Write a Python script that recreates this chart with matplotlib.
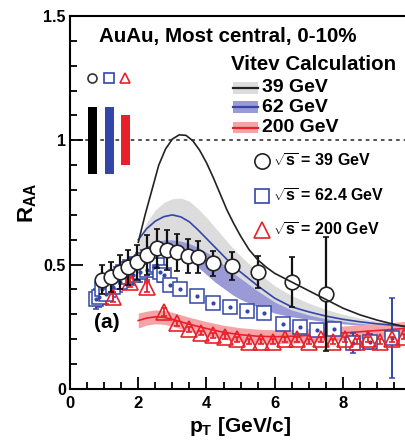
import matplotlib
matplotlib.use("Agg")
import matplotlib.pyplot as plt
from matplotlib.lines import Line2D
from matplotlib.patches import Rectangle

plt.rcParams['font.family'] = ['Liberation Sans', 'DejaVu Sans']
plt.rcParams['font.weight'] = 'bold'
plt.rcParams['mathtext.fontset'] = 'custom'
plt.rcParams['mathtext.rm'] = 'Liberation Sans:bold'
plt.rcParams['mathtext.bf'] = 'Liberation Sans:bold'
plt.rcParams['mathtext.it'] = 'Liberation Sans:bold'

# ---- measured R_AA ----
# sqrt(s) = 39 GeV (open circles)
c39_pt = [0.95, 1.2, 1.45, 1.7, 1.95, 2.25, 2.55, 2.84, 3.15, 3.45, 3.75, 4.2, 4.75, 5.5, 6.5, 7.5]
c39_raa = [0.44, 0.45, 0.47, 0.49, 0.51, 0.54, 0.565, 0.56, 0.55, 0.535, 0.53, 0.505, 0.495, 0.47, 0.43, 0.383]
c39_err = [0.06, 0.06, 0.07, 0.07, 0.07, 0.08, 0.08, 0.08, 0.075, 0.07, 0.065, 0.05, 0.055, 0.065, 0.10, 0.23]

# sqrt(s) = 62.4 GeV (open squares)
s62_pt = [0.75, 0.85, 0.95, 1.05, 1.15, 1.25, 1.35, 1.45, 1.55, 1.65, 1.75, 1.85, 1.95, 2.05,
          2.15, 2.25, 2.35, 2.45, 2.55, 2.65, 2.75, 2.93, 3.22, 3.72, 4.2, 4.7, 5.2, 5.7,
          6.25, 6.75, 7.25, 7.75, 8.3, 8.8, 9.45]
s62_raa = [0.36, 0.37, 0.40, 0.38, 0.43, 0.41, 0.45, 0.43, 0.47, 0.45, 0.49, 0.46, 0.50, 0.47,
           0.52, 0.48, 0.53, 0.49, 0.50, 0.47, 0.46, 0.42, 0.40, 0.375, 0.345, 0.328, 0.313, 0.305,
           0.26, 0.25, 0.237, 0.24, 0.186, 0.19, 0.205]
s62_err = [0.04, 0.04, 0.04, 0.04, 0.04, 0.04, 0.04, 0.04, 0.04, 0.04, 0.04, 0.04, 0.04, 0.04,
           0.04, 0.04, 0.04, 0.04, 0.04, 0.04, 0.03, 0.02, 0.02, 0.02, 0.015, 0.015, 0.015, 0.015,
           0.02, 0.02, 0.02, 0.02, 0.04, 0.03, 0.16]

# sqrt(s) = 200 GeV (open triangles)
t200_pt = [1.25, 1.75, 2.25, 2.75, 3.15, 3.5, 3.85, 4.2, 4.55, 4.9, 5.25, 5.6, 5.95, 6.3,
           6.65, 7.0, 7.35, 7.7, 8.05, 8.4, 8.75, 9.1, 9.45, 9.8]
t200_raa = [0.37, 0.43, 0.41, 0.31, 0.265, 0.24, 0.225, 0.215, 0.21, 0.20, 0.19, 0.19, 0.19, 0.20,
            0.20, 0.19, 0.20, 0.19, 0.20, 0.19, 0.20, 0.19, 0.20, 0.21]
t200_err = [0.02, 0.02, 0.02, 0.015, 0.01, 0.01, 0.01, 0.01, 0.01, 0.01, 0.01, 0.01, 0.01, 0.01,
            0.01, 0.01, 0.01, 0.01, 0.01, 0.01, 0.01, 0.01, 0.01, 0.01]

# ---- global normalisation uncertainties ----
norm_x = [0.65, 1.15, 1.62]
norm_err = [0.135, 0.135, 0.10]
norm_colors = ['black', '#3346a8', '#e8202a']

# ---- Vitev calculation ----
th39_pt = [2.0, 2.2, 2.4, 2.6, 2.8, 3.0, 3.2, 3.4, 3.6, 3.8, 4.0, 4.2, 4.4, 4.6, 4.8, 5.0,
           5.25, 5.5, 5.75, 6.0, 6.5, 7.0, 7.5, 8.0, 8.5, 9.0, 9.5, 10.0]
th39_raa = [0.59, 0.70, 0.80, 0.90, 0.965, 1.005, 1.022, 1.02, 0.998, 0.96, 0.91, 0.85, 0.785,
            0.72, 0.665, 0.615, 0.56, 0.52, 0.49, 0.465, 0.43, 0.395, 0.36, 0.325, 0.298,
            0.277, 0.26, 0.245]

band_pt = [2.0, 2.25, 2.5, 2.75, 3.0, 3.25, 3.5, 3.75, 4.0, 4.25, 4.5, 4.75, 5.0, 5.5, 6.0,
           6.5, 7.0, 7.5, 8.0, 8.5, 9.0, 9.5, 10.0]
gray_hi = [0.60, 0.67, 0.72, 0.75, 0.765, 0.768, 0.755, 0.725, 0.69, 0.65, 0.61, 0.57, 0.535,
           0.47, 0.415, 0.375, 0.345, 0.32, 0.30, 0.285, 0.272, 0.262, 0.255]
th62_raa = [0.60, 0.645, 0.675, 0.693, 0.70, 0.692, 0.672, 0.64, 0.605, 0.57, 0.535, 0.50, 0.47,
            0.415, 0.365, 0.33, 0.31, 0.293, 0.28, 0.27, 0.262, 0.256, 0.25]
blue_hi = [0.53, 0.565, 0.59, 0.60, 0.60, 0.595, 0.585, 0.57, 0.55, 0.53, 0.50, 0.47, 0.445,
           0.395, 0.35, 0.318, 0.298, 0.283, 0.272, 0.264, 0.257, 0.251, 0.247]
blue_lo = [0.45, 0.50, 0.53, 0.55, 0.555, 0.545, 0.52, 0.49, 0.46, 0.43, 0.405, 0.38, 0.36,
           0.33, 0.305, 0.29, 0.28, 0.27, 0.262, 0.256, 0.25, 0.245, 0.242]

red_pt = [2.0, 2.25, 2.5, 2.75, 3.0, 3.5, 4.0, 4.5, 5.0, 5.5, 6.0, 6.5, 7.0, 7.5, 8.0, 8.5,
          9.0, 9.5, 10.0]
th200_raa = [0.275, 0.285, 0.29, 0.288, 0.28, 0.26, 0.243, 0.228, 0.218, 0.212, 0.21, 0.212,
             0.215, 0.22, 0.225, 0.23, 0.235, 0.24, 0.245]
red_lo = [0.245, 0.257, 0.262, 0.26, 0.252, 0.232, 0.215, 0.2, 0.19, 0.184, 0.182, 0.184,
          0.187, 0.192, 0.197, 0.202, 0.207, 0.212, 0.217]
red_hi = [0.305, 0.313, 0.318, 0.316, 0.308, 0.288, 0.271, 0.256, 0.246, 0.24, 0.238, 0.24,
          0.243, 0.248, 0.253, 0.258, 0.263, 0.268, 0.273]

theory_labels = ['39 GeV', '62 GeV', '200 GeV']
data_labels = [r'$\sqrt{s}$ = 39 GeV', r'$\sqrt{s}$ = 62.4 GeV', r'$\sqrt{s}$ = 200 GeV']

BLUE = '#3346a8'
RED = '#e8202a'
GRAY_BAND = '#dcdcdc'
BLUE_BAND = '#9a9bd6'
RED_BAND = '#f5a3a6'
DARK = '#222222'

fig = plt.figure(figsize=(4.05, 4.45), dpi=100)
ax = fig.add_axes([0.173, 0.126, 0.842, 0.838])

# theory bands
ax.fill_between(band_pt, blue_hi, gray_hi, color=GRAY_BAND, lw=0, zorder=1)
ax.fill_between(band_pt, blue_lo, blue_hi, color=BLUE_BAND, lw=0, zorder=1.2)
ax.fill_between(red_pt, red_lo, red_hi, color=RED_BAND, lw=0, zorder=1.2)
ax.plot(band_pt, th62_raa, color=BLUE, lw=1.2, zorder=1.5)
ax.plot(red_pt, th200_raa, color=RED, lw=1.2, zorder=1.5)

# unity line
ax.axhline(1.0, color='#444444', lw=1.3, ls=(0, (2, 2.2)), zorder=1)

# normalisation boxes
for x, e, c in zip(norm_x, norm_err, norm_colors):
    ax.bar(x, 2 * e, bottom=1 - e, width=0.27, color=c, zorder=2)
ax.plot(norm_x[0], 1.25, 'o', mfc='none', mec='#333333', ms=6.5, mew=1.2)
ax.plot(norm_x[1], 1.25, 's', mfc='none', mec=BLUE, ms=6.5, mew=1.2)
ax.plot(norm_x[2], 1.25, '^', mfc='none', mec=RED, ms=6.5, mew=1.2)

# data
ax.errorbar(s62_pt, s62_raa, yerr=s62_err, fmt='s', ms=10, mfc='white', mec=BLUE, mew=1.1,
            ecolor=BLUE, elinewidth=1.4, capsize=2, capthick=1.6, zorder=3)
ax.plot(s62_pt, s62_raa, 'o', ms=2, color=BLUE, zorder=3.1)
ax.errorbar(t200_pt, t200_raa, yerr=t200_err, fmt='^', ms=11, mfc='none', mec=RED, mew=1.2,
            ecolor=RED, elinewidth=1.3, capsize=2, capthick=1.5, zorder=3.2)
ax.errorbar(c39_pt, c39_raa, yerr=c39_err, fmt='o', ms=10.5, mfc='white', mec=DARK, mew=1.2,
            ecolor='#111111', elinewidth=1.6, capsize=2.5, capthick=2, zorder=3.4)

ax.plot(th39_pt, th39_raa, color=DARK, lw=1.2, zorder=4)

ax.set_xlim(0, 10)
ax.set_ylim(0, 1.5)
ax.set_xticks([0, 2, 4, 6, 8])
ax.set_xticks([x * 0.5 for x in range(20)], minor=True)
ax.set_yticks([0, 0.5, 1, 1.5])
ax.set_yticklabels(['0', '0.5', '1', '1.5'])
ax.set_yticks([y * 0.1 for y in range(16)], minor=True)
ax.tick_params(which='both', direction='in', top=False, right=False, width=1.3)
ax.tick_params(axis='x', which='major', labelsize=12, pad=5)
ax.tick_params(axis='y', which='major', labelsize=11.5, pad=3)
ax.tick_params(which='major', length=9)
ax.tick_params(which='minor', length=5)
for s in ax.spines.values():
    s.set_linewidth(1.5)
ax.spines['right'].set_visible(False)

ax.set_xlabel(r'$\mathbf{p_T}$ [GeV/c]', fontsize=15, fontweight='bold', labelpad=3)
ax.set_ylabel(r'$\mathbf{R_{AA}}$', fontsize=16, fontweight='bold', labelpad=3)

ax.text(0.463, 0.946, 'AuAu, Most central, 0-10%', transform=ax.transAxes, ha='center',
        va='center', fontsize=14.8, fontweight='bold')
ax.text(0.108, 0.177, '(a)', transform=ax.transAxes, ha='center', va='center',
        fontsize=15, fontweight='bold')

# theory key
ax.text(0.473, 0.871, 'Vitev Calculation', transform=ax.transAxes, ha='left', va='center',
        fontsize=14.8, fontweight='bold')
key_rows = [0.807, 0.755, 0.701]
for yk, band_c, line_c, lab in zip(key_rows, [GRAY_BAND, BLUE_BAND, RED_BAND],
                                   [DARK, BLUE, RED], theory_labels):
    ax.add_patch(Rectangle((0.478, yk - 0.016), 0.074, 0.032, transform=ax.transAxes,
                           color=band_c, lw=0, clip_on=False))
    ax.add_line(Line2D([0.478, 0.552], [yk, yk], transform=ax.transAxes, color=line_c, lw=1.6))
    ax.text(0.562, yk, lab, transform=ax.transAxes, ha='left', va='center',
            fontsize=14, fontweight='bold')

# data key
data_rows = [0.611, 0.517, 0.426]
for yk, mk, mc, ms, lab in zip(data_rows, ['o', 's', '^'], [DARK, BLUE, RED], [11, 10, 12],
                               data_labels):
    ax.add_line(Line2D([0.562], [yk], transform=ax.transAxes, marker=mk, ls='none', ms=ms,
                       mfc='none', mec=mc, mew=1.2))
    ax.text(0.594, yk, lab, transform=ax.transAxes, ha='left', va='center',
            fontsize=11.5, fontweight='bold')

fig.savefig('out.png', dpi=100)
